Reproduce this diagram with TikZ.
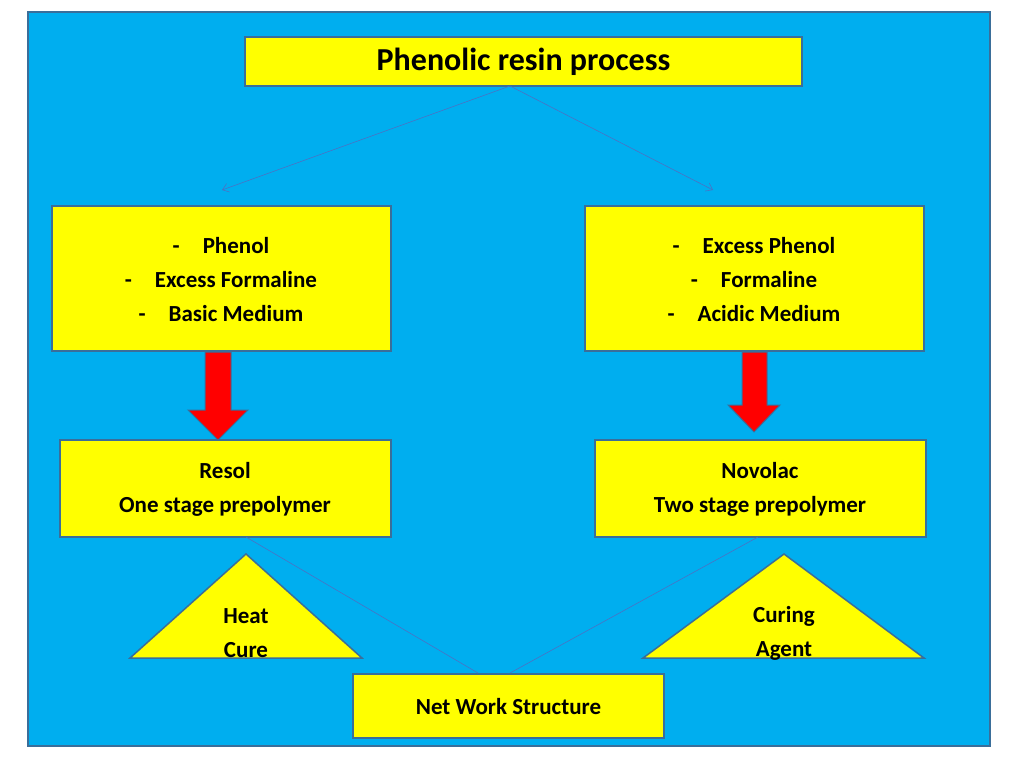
\documentclass[tikz,border=0pt]{standalone}
\usepackage{fontspec}
\setmainfont{Carlito}
\usetikzlibrary{arrows.meta}
\definecolor{bg}{HTML}{00AEEF}
\definecolor{bd}{HTML}{3A6E9A}
\definecolor{yl}{HTML}{FFFF00}
\definecolor{ln}{HTML}{4A72C4}
\begin{document}
\begin{tikzpicture}[x=1pt,y=-1pt,
 box/.style={draw=bd,line width=1.5pt,fill=yl},
 txt/.style={font=\fontsize{23}{34}\selectfont\bfseries,align=center},
 thin/.style={draw=ln,line width=0.6pt},
 red/.style={fill=red,draw=bd,line width=1pt}]
\useasboundingbox (0,0) rectangle (1024,768);
\fill[white] (0,0) rectangle (1024,768);
\draw[fill=bg,draw=bd,line width=1.5pt] (28,12) rectangle (990,746);
\draw[box] (245,37) rectangle (802,86);
\node[txt,font=\fontsize{32}{38}\selectfont\bfseries] (t) at (523.5,62) {Phenolic resin process};
\draw[box] (52,206) rectangle (391,351);
\node[txt] (l) at (221,280) {-\quad Phenol\\-\quad Excess Formaline\\-\quad Basic Medium};
\draw[box] (585,206) rectangle (924,351);
\node[txt] (r) at (754,280) {-\quad Excess Phenol\\-\quad Formaline\\-\quad Acidic Medium};
\draw[box] (60,440) rectangle (391,537);
\node[txt] (rs) at (225,489) {Resol\\One stage prepolymer};
\draw[box] (595,440) rectangle (926,537);
\node[txt] (nv) at (760,489) {Novolac\\Two stage prepolymer};
\draw[box] (246,554) -- (130,658) -- (362,658) -- cycle;
\node[txt] (hc) at (246,633) {Heat\\Cure};
\draw[box] (784,554) -- (643,658) -- (924,658) -- cycle;
\node[txt] (ca) at (784,633) {Curing\\Agent};
\draw[box] (353,674) rectangle (664,738);
\node[txt] (nw) at (508.5,707) {Net Work Structure};
\coordinate (top) at (510,86);
\coordinate (al) at (222,190);
\coordinate (ar) at (713,190);
\draw[thin,-{Straight Barb[length=6pt,width=9pt]}] (top) -- (al);
\draw[thin,-{Straight Barb[length=6pt,width=9pt]}] (top) -- (ar);
\coordinate (b1) at (246,537); \coordinate (b2) at (478,673);
\coordinate (b3) at (758,537); \coordinate (b4) at (510,673);
\draw[thin] (b1) -- (b2);
\draw[thin] (b3) -- (b4);
\draw[red] (205,352) -- (231,352) -- (231,410) -- (248,410) -- (218,440) -- (188,410) -- (205,410) -- cycle;
\draw[red] (742,352) -- (767,352) -- (767,405) -- (780,405) -- (754,432) -- (728,405) -- (742,405) -- cycle;
\end{tikzpicture}
\end{document}
